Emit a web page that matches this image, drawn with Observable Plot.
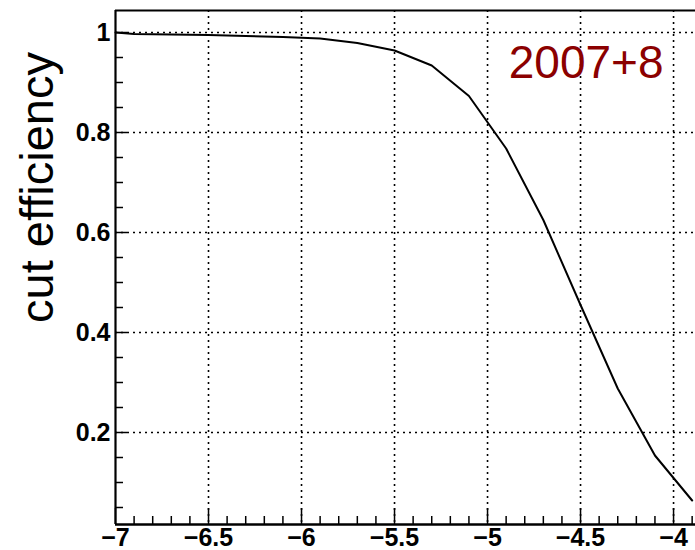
<!DOCTYPE html>
<html><head><meta charset="utf-8">
<script src="https://cdn.jsdelivr.net/npm/d3@7"></script>
<script src="https://cdn.jsdelivr.net/npm/@observablehq/plot@0.6"></script>
<style>body{margin:0;background:#fff} svg{display:block}</style>
</head><body><div id="chart"></div>
<script>
// data
const cutValue   = [-7.0, -6.9, -6.7, -6.5, -6.3, -6.1, -5.9, -5.7, -5.5, -5.3, -5.1, -4.9, -4.7, -4.5, -4.3, -4.1, -3.9];
const efficiency = [1.0, 0.997, 0.996, 0.995, 0.993, 0.991, 0.988, 0.979, 0.964, 0.934, 0.873, 0.768, 0.625, 0.455, 0.288, 0.154, 0.064];
const xMajor = [-7, -6.5, -6, -5.5, -5, -4.5, -4];
const xMinor = [-6.9,-6.8,-6.7,-6.6,-6.4,-6.3,-6.2,-6.1,-5.9,-5.8,-5.7,-5.6,-5.4,-5.3,-5.2,-5.1,-4.9,-4.8,-4.7,-4.6,-4.4,-4.3,-4.2,-4.1,-3.9];
const yMajor = [0.2, 0.4, 0.6, 0.8, 1];
const yMinor = [0.05,0.1,0.15,0.25,0.3,0.35,0.45,0.5,0.55,0.65,0.7,0.75,0.85,0.9,0.95];
const yTitle = "cut efficiency";
const tag = "2007+8";

const W = 695, H = 550, mL = 115, mT = 10, mB = 26, mR = 0;
const fw = W - mL - mR, fh = H - mT - mB;
const xDomain = [-7, -3.882], yDomain = [0.016, 1.044];
const data = cutValue.map((x, i) => ({x, y: efficiency[i]}));
const dotted = {stroke: "#000", strokeDasharray: "2,4", strokeWidth: 1.6};
const fmtX = d => String(d).replace("-", "\u2212");

const plot = Plot.plot({
  width: W, height: H,
  marginLeft: mL, marginRight: mR, marginTop: mT, marginBottom: mB,
  style: {fontFamily: "'Liberation Sans', Arial, Helvetica, sans-serif", background: "#fff", color: "#000"},
  x: {domain: xDomain},
  y: {domain: yDomain},
  marks: [
    Plot.ruleX(xMajor.filter(v => v > -7), dotted),
    Plot.ruleY(yMajor, dotted),
    Plot.ruleX(xMinor, {insetTop: fh - 8, strokeWidth: 1.5}),
    Plot.ruleX(xMajor, {insetTop: fh - 16, strokeWidth: 1.5}),
    Plot.ruleY(yMinor, {insetRight: fw - 8, strokeWidth: 1.5}),
    Plot.ruleY(yMajor, {insetRight: fw - 12, strokeWidth: 1.5}),
    Plot.line(data, {x: "x", y: "y", stroke: "#000", strokeWidth: 2}),
    Plot.ruleX([xDomain[0]], {strokeWidth: 2.2}),
    Plot.ruleY([yDomain[0]], {strokeWidth: 2.6}),
    Plot.ruleY([yDomain[1]], {strokeWidth: 2.2}),
    Plot.axisX({ticks: xMajor, tickSize: 0, tickPadding: 4, fontSize: 25, fontWeight: "bold", label: null, tickFormat: fmtX}),
    Plot.axisY({ticks: yMajor, tickSize: 0, tickPadding: 5, fontSize: 25, fontWeight: "bold", label: null, tickFormat: d => String(d)}),
    Plot.text([yTitle], {frameAnchor: "left", textAnchor: "middle", lineAnchor: "middle", rotate: -90, dx: -78, dy: -80, fontSize: 47, fill: "#000"}),
    Plot.text([tag], {frameAnchor: "top-right", textAnchor: "end", lineAnchor: "top", dx: -32, dy: 35, fontSize: 46, fill: "#8b0000"})
  ]
});
document.getElementById("chart").append(plot);
</script>
</body></html>
